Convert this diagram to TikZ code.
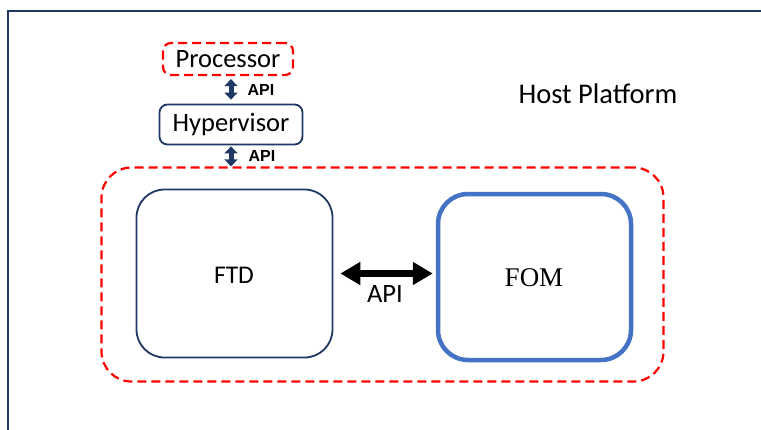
\documentclass[tikz,border=0pt]{standalone}
\usepackage{fontspec}
\setmainfont{Carlito}
\newfontfamily\serifA{Liberation Serif}
\newfontfamily\arialA{Liberation Sans}
\usetikzlibrary{arrows.meta}
\definecolor{navy}{HTML}{1F3864}
\definecolor{redd}{HTML}{FF0000}
\definecolor{blueo}{HTML}{4472C4}
\tikzset{
  redbox/.style={draw=redd, line width=2.2pt, dash pattern=on 9pt off 5pt, rounded corners=#1},
  navybox/.style={draw=navy, line width=1.8pt, rounded corners=#1},
  smallapi/.style={font=\arialA\bfseries\fontsize{16}{18}\selectfont, inner sep=0pt},
  hapi/.style={black, line width=7pt, {Triangle[length=20pt,width=22pt]}-{Triangle[length=20pt,width=22pt]}},
}
\begin{document}
\begin{tikzpicture}[x=1pt,y=-1pt]
\useasboundingbox (0,0) rectangle (761,429);
% frame
\draw[navy, line width=2pt] (8,430) -- (8,10.5) -- (762,10.5);
\node[font=\fontsize{28.5}{32}\selectfont] (host) at (598,94) {Host Platform};
% processor & hypervisor
\node[redbox=8pt, minimum width=130pt, minimum height=32pt, font=\fontsize{26.5}{30}\selectfont, inner sep=0pt] (proc) at (228,59) {Processor};
\node[navybox=8pt, minimum width=143pt, minimum height=40pt, font=\fontsize{26.5}{30}\selectfont, inner sep=0pt] (hyp) at (231,124.5) {Hypervisor};
% container
\node[redbox=30pt, minimum width=562pt, minimum height=214pt] (cont) at (382.5,274.5) {};
\node[navybox=28pt, minimum width=196pt, minimum height=168pt] (ftd) at (234.5,273.5) {};
\node[font=\fontsize{25.5}{30}\selectfont] (ftdt) at (234,275) {FTD};
\node[draw=blueo, line width=4.5pt, rounded corners=30pt, minimum width=193pt, minimum height=166pt] (fom) at (534.5,277) {};
\node[font=\serifA\fontsize{27}{30}\selectfont] (fomt) at (534,278) {FOM};
% connectors
\draw[navy, line width=5pt, {Triangle[length=7pt,width=13pt]}-{Triangle[length=7pt,width=13pt]}, shorten <=3pt, shorten >=4pt] (proc.south -| hyp.north) -- (hyp.north);
\node[smallapi] (api1) at (261,90) {API};
\draw[navy, line width=5pt, {Triangle[length=7pt,width=13pt]}-{Triangle[length=7pt,width=13pt]}, shorten <=1pt] (hyp.south) -- (hyp.south |- cont.north);
\node[smallapi] (api2) at (262,156) {API};
\draw[hapi, shorten <=7pt, shorten >=3pt] (ftd.east) -- (ftd.east -| fom.west);
\node[font=\fontsize{26.5}{30}\selectfont] (api3) at (385,294) {API};
\end{tikzpicture}
\end{document}
